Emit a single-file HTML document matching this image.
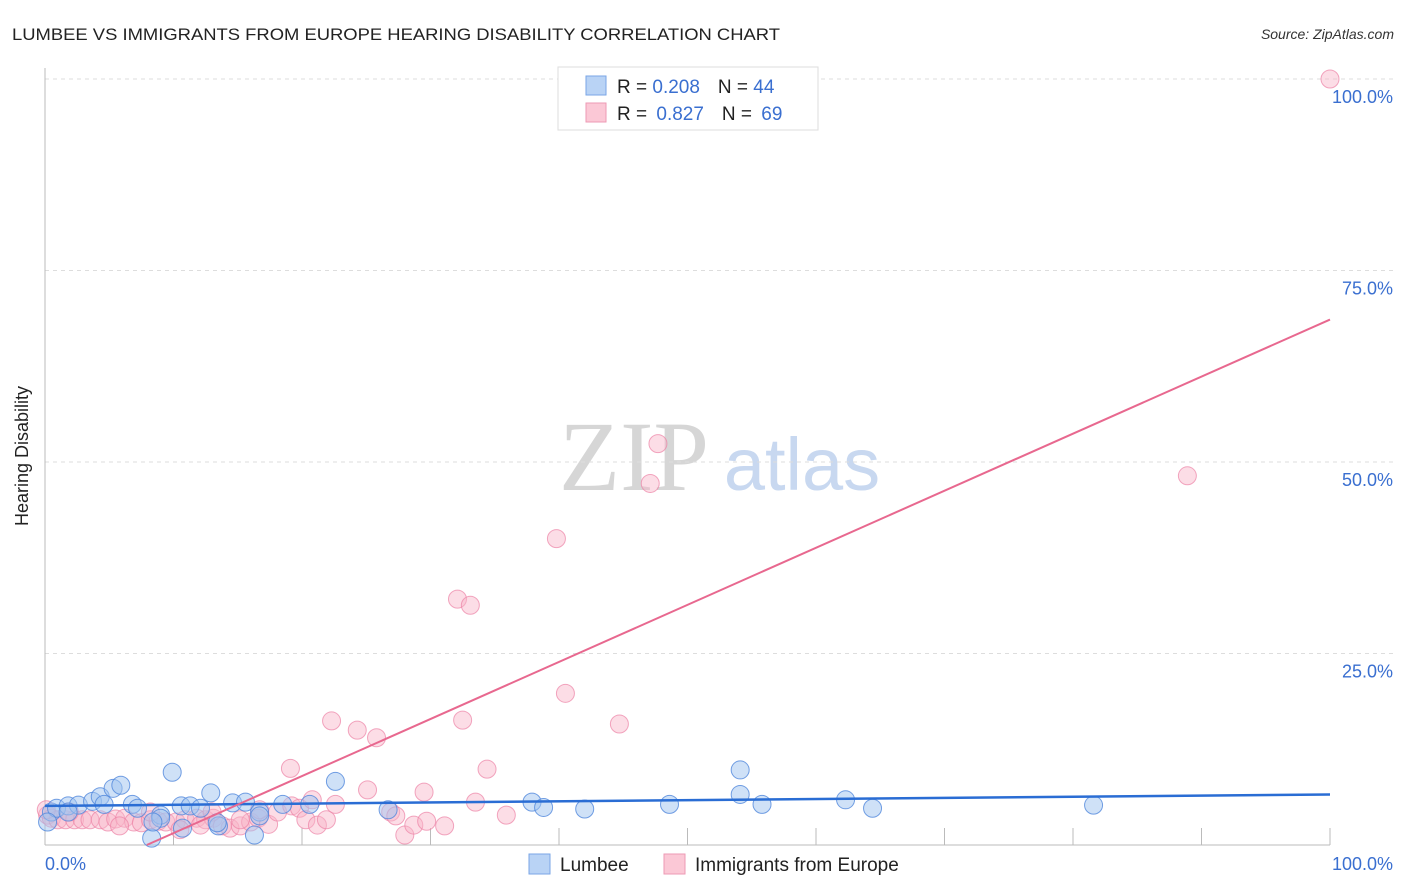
<!DOCTYPE html>
<html><head><meta charset="utf-8"><style>
html,body{margin:0;padding:0;background:#fff;}
svg{display:block;font-family:"Liberation Sans",sans-serif;}
</style></head><body>
<svg id="chart" width="1406" height="892" viewBox="0 0 1406 892">
<text x="12" y="40" font-size="17" fill="#222" textLength="768" lengthAdjust="spacingAndGlyphs">LUMBEE VS IMMIGRANTS FROM EUROPE HEARING DISABILITY CORRELATION CHART</text>
<text x="1394" y="39" font-size="14" fill="#333" font-style="italic" text-anchor="end">Source: ZipAtlas.com</text>
<g>
<text x="634" y="490" font-size="100" fill="#d6d6d6" font-family="Liberation Serif,serif" text-anchor="middle">ZIP</text>
<text x="802" y="490" font-size="74" fill="#c8d8f0" text-anchor="middle">atlas</text>
</g>
<g id="grid"></g>
<line x1="45" y1="68" x2="45" y2="845" stroke="#bbb"/>
<line x1="45" y1="845" x2="1330" y2="845" stroke="#bbb"/>
<text x="28" y="456" font-size="18" fill="#222" text-anchor="middle" transform="rotate(-90 28 456)">Hearing Disability</text>
<text x="45" y="870" font-size="18" fill="#3a6fd0">0.0%</text>
<text x="1393" y="870" font-size="18" fill="#3a6fd0" text-anchor="end">100.0%</text>
<g id="pts"></g>
<g id="lines"></g>
<g>
<rect x="558" y="67" width="260" height="63" fill="#fff" stroke="#ddd"/>
<rect x="586" y="76" width="20" height="19" fill="#b9d3f5" stroke="#7aa6e6"/>
<rect x="586" y="103" width="20" height="19" fill="#fbc8d6" stroke="#ee9ab4"/>
<text x="617" y="93" font-size="19" fill="#222">R = <tspan fill="#3a6fd0">0.208</tspan><tspan dx="18">N = </tspan><tspan fill="#3a6fd0">44</tspan></text>
<text x="617" y="120" font-size="19" fill="#222">R = <tspan fill="#3a6fd0" dx="4">0.827</tspan><tspan dx="18">N = </tspan><tspan fill="#3a6fd0" dx="4">69</tspan></text>
</g>
<g>
<rect x="529" y="854" width="21" height="20" fill="#b9d3f5" stroke="#7aa6e6"/>
<text x="560" y="871" font-size="19" fill="#222">Lumbee</text>
<rect x="664" y="854" width="21" height="20" fill="#fbc8d6" stroke="#ee9ab4"/>
<text x="695" y="871" font-size="19" fill="#222">Immigrants from Europe</text>
</g>
</svg>
<script>
const yTicks=[25,50,75,100];
const yTickLabels=["25.0%","50.0%","75.0%","100.0%"];
const xTickVals=[10,20,30,40,50,60,70,80,90,100];
const lumbeeX=[0.5,0.9,1.8,2.6,3.7,4.3,5.3,5.9,4.6,6.8,7.2,9.0,9.9,10.6,11.3,12.1,12.9,13.5,14.6,15.6,16.3,16.7,18.5,20.6,22.6,26.7,8.3,10.7,9.0,8.4,37.9,38.8,42.0,48.6,54.1,54.1,55.8,62.3,64.4,81.6,0.2,1.8,16.7,13.4];
const lumbeeY=[4.3,4.8,5.1,5.2,5.7,6.3,7.4,7.8,5.3,5.3,4.8,3.9,9.5,5.1,5.1,4.8,6.8,2.5,5.5,5.6,1.3,4.3,5.3,5.3,8.3,4.6,0.9,2.2,3.5,3.0,5.6,4.9,4.7,5.3,9.8,6.6,5.3,5.9,4.8,5.2,3.0,4.3,3.8,2.9];
const europeX=[0.2,0.5,1.0,1.6,2.3,2.9,3.5,4.3,4.9,5.5,6.2,6.9,7.5,8.2,8.8,9.4,10.2,10.9,11.8,12.5,13.1,13.8,14.4,15.2,16.0,16.6,17.4,18.1,19.1,19.2,19.8,20.3,20.8,21.2,21.9,22.3,22.6,24.3,25.1,25.8,26.9,27.3,28.0,28.7,29.5,29.7,31.1,32.1,32.5,33.1,33.5,34.4,35.9,39.8,40.5,44.7,47.1,47.7,88.9,100,0.1,1.9,5.8,12.1,15.2,16.7,8.2,10.5,13.0];
const europeY=[3.9,3.5,3.3,3.3,3.3,3.3,3.3,3.3,3.0,3.4,3.5,3.0,2.9,3.3,3.1,3.0,3.0,3.3,3.5,3.3,3.5,2.5,2.2,2.5,3.0,3.5,2.7,4.3,10.0,5.1,4.8,3.3,5.9,2.6,3.3,16.2,5.3,15.0,7.2,14.0,4.3,3.8,1.3,2.6,6.9,3.1,2.5,32.1,16.3,31.3,5.6,9.9,3.9,40.0,19.8,15.8,47.2,52.4,48.2,100,4.6,4.3,2.5,2.6,3.3,4.6,4.3,2.0,4.3];
const lumbeeTrend=[5.1,6.6];
const europeTrend=[-5.9,68.6];

const NS="http://www.w3.org/2000/svg";
const X0=45,X1=1330,Y0=845,Y100=79;
function sx(v){return X0+(X1-X0)*v/100;}
function sy(v){return Y0-(Y0-Y100)*v/100;}
function mk(tag,attrs,parent){const e=document.createElementNS(NS,tag);for(const k in attrs)e.setAttribute(k,attrs[k]);parent.appendChild(e);return e;}
const grid=document.getElementById('grid');
yTicks.forEach((t,i)=>{
  const l=mk('line',{x1:45,x2:1394,y1:sy(t),y2:sy(t),stroke:'#ddd','stroke-dasharray':'4 4'},grid);
  
  
  const tx=mk('text',{x:1393,y:sy(t)+24,'font-size':18,fill:'#3a6fd0','text-anchor':'end'},grid);
  tx.textContent=yTickLabels[i];
  
  
});
xTickVals.forEach(t=>{
  const l=mk('line',{x1:sx(t),x2:sx(t),y1:828,y2:845,stroke:'#bbb'},grid);
  
  
});
const pts=document.getElementById('pts');
europeX.forEach((x,i)=>{
  const c=mk('circle',{cx:sx(x),cy:sy(europeY[i]),r:9,fill:'rgba(248,180,200,0.45)',stroke:'rgba(236,130,165,0.7)','stroke-width':1},pts);
  
  
});
lumbeeX.forEach((x,i)=>{
  const c=mk('circle',{cx:sx(x),cy:sy(lumbeeY[i]),r:9,fill:'rgba(160,195,240,0.5)',stroke:'rgba(80,135,220,0.8)','stroke-width':1},pts);
  
  
});
const lines=document.getElementById('lines');
const lb=mk('line',{x1:sx(0),y1:sy(lumbeeTrend[0]),x2:sx(100),y2:sy(lumbeeTrend[1]),stroke:'#2a6dd4','stroke-width':2.5},lines);


const x0=-europeTrend[0]/(europeTrend[1]-europeTrend[0])*100;
const le=mk('line',{x1:sx(x0),y1:sy(0),x2:sx(100),y2:sy(europeTrend[1]),stroke:'#e8688f','stroke-width':2},lines);


</script>
</body></html>
